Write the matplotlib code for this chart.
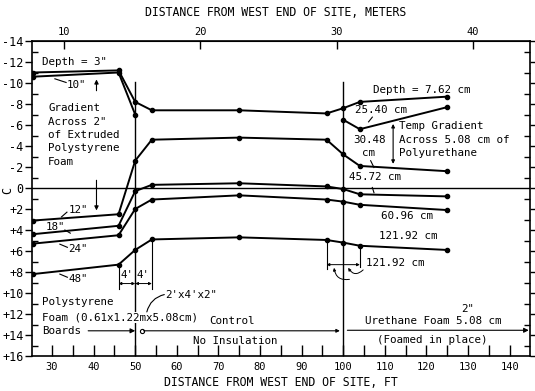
import matplotlib.pyplot as plt
from matplotlib.ticker import MultipleLocator, FixedLocator, FuncFormatter

plt.rcParams['font.family'] = 'DejaVu Sans Mono'

# --- data ---
# distance from west end of site, ft
ft_full = [25.4, 46, 50, 54, 75, 96, 100, 104, 125]
ft_left = [25.4, 46, 50]
ft_right = [100, 104, 125]

# temperature, C  (depth below surface)
t_3in = [-11.0, -11.2, -8.2, -7.4, -7.4, -7.1, -7.6, -8.2, -8.7]
t_10in = [-10.6, -11.0, -7.0]
t_25cm = [-6.5, -5.6, -7.7]
t_12in = [3.1, 2.5, -2.6, -4.6, -4.8, -4.6, -3.2, -2.1, -1.6]
t_18in = [4.4, 3.6, 0.3, -0.3, -0.45, -0.15, 0.1, 0.6, 0.8]
t_24in = [5.3, 4.5, 2.0, 1.1, 0.7, 1.1, 1.3, 1.6, 2.1]
t_48in = [8.2, 7.3, 5.9, 4.9, 4.7, 4.95, 5.2, 5.5, 5.9]

meter_ticks = [10, 20, 30, 40]

FS = 7.8

fig = plt.figure(figsize=(5.35, 3.91), dpi=100)
ax = fig.add_axes([32 / 535, 1 - 356 / 391, 498 / 535, 315 / 391])

# --- curves ---
for t in [t_3in, t_12in, t_18in, t_24in, t_48in]:
    ax.plot(ft_full, t, 'k-', lw=1.4, marker='o', ms=3.0)
ax.plot(ft_left, t_10in, 'k-', lw=1.4, marker='o', ms=3.0)
ax.plot(ft_right, t_25cm, 'k-', lw=1.4, marker='o', ms=3.0)

# reference lines
ax.axhline(0, color='k', lw=1.0)
ax.plot([50, 50], [-10.1, 16], 'k-', lw=1.0)
ax.plot([100, 100], [-10.1, 16], 'k-', lw=1.0)

# --- axes ---
ax.set_xlim(25.2, 144.9)
ax.set_ylim(16, -14)
ax.xaxis.set_major_locator(MultipleLocator(10))
ax.xaxis.set_minor_locator(MultipleLocator(5))
ax.yaxis.set_major_locator(MultipleLocator(2))
ax.yaxis.set_minor_locator(MultipleLocator(1))
ax.yaxis.set_major_formatter(FuncFormatter(lambda v, p: '0' if v == 0 else f'{int(v):+d}'))
ax.tick_params(axis='x', which='both', direction='in', length=8, width=1, labelsize=7.5, pad=4,
               top=False)
ax.tick_params(axis='y', which='major', direction='out', length=5, width=1, labelsize=8.5, pad=1)
ax.tick_params(axis='y', which='minor', direction='in', length=4, width=1)
ax.tick_params(axis='y', which='both', right=True)
for s in ax.spines.values():
    s.set_linewidth(1.2)

sec = ax.secondary_xaxis('top', functions=(lambda f: f * 0.3048, lambda m: m / 0.3048))
sec.xaxis.set_major_locator(FixedLocator(meter_ticks))
sec.tick_params(direction='in', length=6, width=1, labelsize=7.5, pad=3)

ax.set_xlabel('DISTANCE FROM WEST END OF SITE, FT', fontsize=8.3, labelpad=3)
fig.text(0.515, 1 - 12 / 391, 'DISTANCE FROM WEST END OF SITE, METERS', fontsize=8.3,
         ha='center', va='center')
fig.text(8 / 535, 1 - 190 / 391, 'C', fontsize=8.5, rotation=90, ha='center', va='center')

# --- left (polystyrene) annotations ---
ax.text(27.6, -12.0, 'Depth = 3"', fontsize=FS, va='center')
ax.text(33.5, -9.85, '10"', fontsize=FS, va='center')
ax.plot([30.7, 33.4], [-10.4, -10.05], 'k-', lw=0.8)
for i, s in enumerate(['Gradient', 'Across 2"', 'of Extruded', 'Polystyrene', 'Foam']):
    ax.text(29.1, -7.6 + 1.27 * i, s, fontsize=FS, va='center')
ax.annotate('', xy=(40.7, -10.6), xytext=(40.7, -9.0),
            arrowprops=dict(arrowstyle='-|>', color='k', lw=0.8, mutation_scale=6))
ax.annotate('', xy=(40.7, 2.4), xytext=(40.7, -1.0),
            arrowprops=dict(arrowstyle='-|>', color='k', lw=0.8, mutation_scale=6))
ax.text(33.9, 2.05, '12"', fontsize=FS, va='center')
ax.plot([32.3, 33.6], [2.75, 2.3], 'k-', lw=0.8)
ax.text(28.6, 3.7, '18"', fontsize=FS, va='center')
ax.plot([33.1, 34.4], [4.0, 4.3], 'k-', lw=0.8)
ax.text(33.9, 5.8, '24"', fontsize=FS, va='center')
ax.plot([31.9, 33.7], [5.35, 5.65], 'k-', lw=0.8)
ax.text(33.9, 8.65, '48"', fontsize=FS, va='center')
ax.plot([31.9, 33.7], [8.2, 8.5], 'k-', lw=0.8)

# 4' dimension marks
ax.plot([46, 46], [7.3, 9.6], 'k-', lw=0.8)
ax.plot([54, 54], [4.9, 9.6], 'k-', lw=0.8)
for a, b in [(46, 50), (50, 54)]:
    ax.annotate('', xy=(a, 9.1), xytext=(b, 9.1),
                arrowprops=dict(arrowstyle='<|-|>', color='k', lw=0.7, mutation_scale=4,
                                shrinkA=0, shrinkB=0))
ax.text(48, 8.3, "4'", fontsize=FS, ha='center', va='center')
ax.text(52, 8.3, "4'", fontsize=FS, ha='center', va='center')

# boards / control / urethane labels
ax.text(27.6, 10.9, 'Polystyrene', fontsize=FS, va='center')
ax.text(27.6, 12.35, 'Foam (0.61x1.22mx5.08cm)', fontsize=FS, va='center',
        bbox=dict(facecolor='white', edgecolor='none', pad=0.5))
ax.text(27.6, 13.6, 'Boards', fontsize=FS, va='center')
ax.annotate('', xy=(50, 13.6), xytext=(38.7, 13.6),
            arrowprops=dict(arrowstyle='-|>', color='k', lw=0.8, mutation_scale=7,
                            shrinkA=0, shrinkB=0))
ax.plot([51.6], [13.6], 'o', mfc='white', mec='k', ms=3, mew=0.8)
ax.annotate('', xy=(99.2, 13.6), xytext=(52, 13.6),
            arrowprops=dict(arrowstyle='-|>', color='k', lw=0.8, mutation_scale=5,
                            shrinkA=0, shrinkB=0))
ax.annotate('', xy=(144.6, 13.55), xytext=(101, 13.55),
            arrowprops=dict(arrowstyle='-|>', color='k', lw=0.8, mutation_scale=7,
                            shrinkA=0, shrinkB=0))
ax.text(57.3, 10.15, '2\'x4\'x2"', fontsize=FS, va='center')
ax.annotate('', xy=(52.8, 11.8), xytext=(57.0, 10.15),
            arrowprops=dict(arrowstyle='-', color='k', lw=0.8,
                            connectionstyle='arc3,rad=0.3', shrinkA=0, shrinkB=0))
ax.text(73.3, 12.7, 'Control', fontsize=FS, ha='center', va='center')
ax.text(74.0, 14.6, 'No Insulation', fontsize=FS, ha='center', va='center')
ax.text(130, 11.5, '2"', fontsize=FS, ha='center', va='center')
ax.text(121.6, 12.65, 'Urethane Foam 5.08 cm', fontsize=FS, ha='center', va='center')
ax.text(121.5, 14.5, '(Foamed in place)', fontsize=FS, ha='center', va='center')

# --- right (urethane) annotations ---
ax.text(107.1, -9.3, 'Depth = 7.62 cm', fontsize=FS, va='center')
ax.text(102.8, -7.4, '25.40 cm', fontsize=FS, va='center')
ax.plot([107.0, 106.1], [-6.75, -6.3], 'k-', lw=0.8)
ax.text(102.3, -4.6, '30.48', fontsize=FS, va='center')
ax.text(106.0, -3.3, 'cm', fontsize=FS, ha='center', va='center')
ax.plot([106.6, 107.4], [-2.6, -1.95], 'k-', lw=0.8)
for i, s in enumerate(['Temp Gradient', 'Across 5.08 cm of', 'Polyurethane']):
    ax.text(113.5, -5.9 + 1.3 * i, s, fontsize=FS, va='center')
ax.annotate('', xy=(112, -6.1), xytext=(112, -2.3),
            arrowprops=dict(arrowstyle='<|-|>', color='k', lw=0.8, mutation_scale=5,
                            shrinkA=0, shrinkB=0))
ax.text(101.5, -1.0, '45.72 cm', fontsize=FS, va='center')
ax.plot([107.0, 107.4], [-0.05, 0.45], 'k-', lw=0.8)
ax.text(109.0, 2.7, '60.96 cm', fontsize=FS, va='center')
ax.text(108.7, 4.6, '121.92 cm', fontsize=FS, va='center')
ax.text(105.5, 7.15, '121.92 cm', fontsize=FS, va='center')

# 121.92 cm dimension marks at the 100 ft boundary
ax.plot([96, 96], [4.95, 7.7], 'k-', lw=0.8)
ax.plot([104, 104], [5.5, 7.5], 'k-', lw=0.8)
ax.annotate('', xy=(96, 7.3), xytext=(104, 7.3),
            arrowprops=dict(arrowstyle='<|-|>', color='k', lw=0.7, mutation_scale=4,
                            shrinkA=0, shrinkB=0))
ax.annotate('', xy=(97.8, 7.6), xytext=(101.5, 8.7),
            arrowprops=dict(arrowstyle='-|>', color='k', lw=0.7, mutation_scale=4,
                            connectionstyle='arc3,rad=-0.5', shrinkA=0, shrinkB=0))
ax.annotate('', xy=(101.2, 7.6), xytext=(104.8, 7.8),
            arrowprops=dict(arrowstyle='-|>', color='k', lw=0.7, mutation_scale=4,
                            connectionstyle='arc3,rad=-0.6', shrinkA=0, shrinkB=0))

fig.savefig('out.png', dpi=100)
